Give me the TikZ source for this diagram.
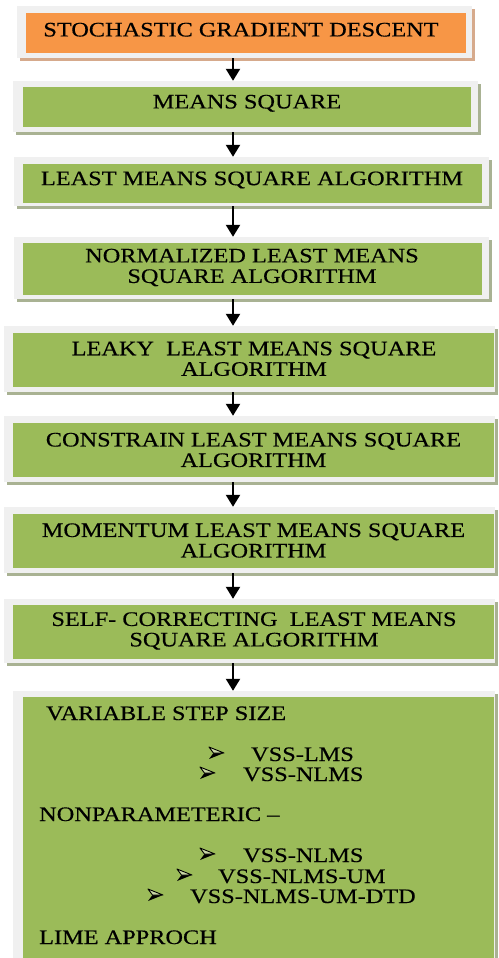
\documentclass[tikz,border=0pt]{standalone}
\usepackage{fontspec}
\setmainfont[FakeStretch=1.18,FakeBold=0.4]{Liberation Serif}
\usetikzlibrary{arrows.meta,shadows,fit}

\definecolor{sgdorange}{HTML}{F79646}
\definecolor{lmsgreen}{HTML}{9BBB59}
\definecolor{framegray}{HTML}{F0F0F0}
\definecolor{greenshadow}{HTML}{A9B293}
\definecolor{orangeshadow}{HTML}{D6AA8C}
\definecolor{bulletlight}{HTML}{C9D6A6}

\tikzset{
  frame/.style={fill=framegray, draw=none, inner sep=0pt,
    drop shadow={shadow xshift=3pt, shadow yshift=-3pt, fill=#1, opacity=1}},
  panel/.style={fill=#1, draw=none, inner sep=0pt},
  caption/.style={inner sep=0pt, align=center,
    font=\fontsize{20.6}{20.5}\selectfont},
  item/.style={inner sep=0pt, anchor=base west,
    font=\fontsize{20.6}{20.5}\selectfont},
  flow/.style={line width=2.2pt, -{Triangle[width=14pt,length=12pt]}},
  % three-dimensional arrowhead used as a list marker
  pics/arrowbullet/.style={code={
    \fill[black] (0,6) -- (15,0) -- (4.5,0) -- cycle;
    \filldraw[fill=bulletlight, draw=black, line width=0.9pt, line join=round]
      (0,-6) -- (15,0) -- (4.5,0) -- cycle;
  }}
}

\begin{document}
\begin{tikzpicture}[x=1pt,y=-1pt]
  \clip (0,0) rectangle (498,958);
  \fill[white] (0,0) rectangle (498,958);

  % outer frames with drop shadows
  \node[frame=orangeshadow, fit={(17,6) (472,58)}]   (f1) {};
  \node[frame=greenshadow,  fit={(13,81) (478,132)}]  (f2) {};
  \node[frame=greenshadow,  fit={(14,157) (489,206)}] (f3) {};
  \node[frame=greenshadow,  fit={(14,237) (489,299)}] (f4) {};
  \node[frame=greenshadow,  fit={(4,326) (495,392)}]  (f5) {};
  \node[frame=greenshadow,  fit={(4,416) (495,482)}]  (f6) {};
  \node[frame=greenshadow,  fit={(4,507) (495,573)}]  (f7) {};
  \node[frame=greenshadow,  fit={(4,599) (495,663)}]  (f8) {};
  \node[frame=greenshadow,  fit={(13,691) (495,975)}] (f9) {};

  % coloured panels
  \node[panel=sgdorange, fit={(26,13) (466,53)}]  (s1) {};
  \node[panel=lmsgreen,  fit={(23,87) (471,127)}]  (s2) {};
  \node[panel=lmsgreen,  fit={(23,164) (482,203)}] (s3) {};
  \node[panel=lmsgreen,  fit={(23,243) (482,295)}] (s4) {};
  \node[panel=lmsgreen,  fit={(13,333) (494,387)}] (s5) {};
  \node[panel=lmsgreen,  fit={(13,423) (494,477)}] (s6) {};
  \node[panel=lmsgreen,  fit={(13,514) (494,568)}] (s7) {};
  \node[panel=lmsgreen,  fit={(13,605) (494,659)}] (s8) {};
  \node[panel=lmsgreen,  fit={(23,697) (494,970)}] (s9) {};

  % captions
  \node[caption] (t1) at (241,29.7)  {STOCHASTIC GRADIENT DESCENT};
  \node[caption] (t2) at (247,103.3) {MEANS SQUARE};
  \node[caption] (t3) at (252,180)   {LEAST MEANS SQUARE ALGORITHM};
  \node[caption] (t4) at (252,267.5) {NORMALIZED LEAST MEANS\\SQUARE ALGORITHM};
  \node[caption] (t5) at (254,358.8) {LEAKY\ \ LEAST MEANS SQUARE\\ALGORITHM};
  \node[caption] (t6) at (253.5,450) {CONSTRAIN LEAST MEANS SQUARE\\ALGORITHM};
  \node[caption] (t7) at (253.5,540.5) {MOMENTUM LEAST MEANS SQUARE\\ALGORITHM};
  \node[caption] (t8) at (254,631)   {SELF- CORRECTING\ \ LEAST MEANS\\SQUARE ALGORITHM};

  % contents of the last panel
  \node[item] (v0) at (46,720) {VARIABLE STEP SIZE};
  \pic at (209,753) {arrowbullet};
  \node[item] (v1) at (251,761) {VSS-LMS};
  \pic at (200,773) {arrowbullet};
  \node[item] (v2) at (243,781) {VSS-NLMS};
  \node[item] (n0) at (39,821) {NONPARAMETERIC –};
  \pic at (200,854) {arrowbullet};
  \node[item] (n1) at (243,862) {VSS-NLMS};
  \pic at (177,875) {arrowbullet};
  \node[item] (n2) at (218,883) {VSS-NLMS-UM};
  \pic at (148,895) {arrowbullet};
  \node[item] (n3) at (190,903) {VSS-NLMS-UM-DTD};
  \node[item] (l0) at (39,944) {LIME APPROCH};

  % connectors
  \coordinate (ax) at (233,0);
  \draw[flow] (f1.south -| ax) -- (f2.north -| ax);
  \draw[flow] (f2.south -| ax) -- (f3.north -| ax);
  \draw[flow] (f3.south -| ax) -- (f4.north -| ax);
  \draw[flow] (f4.south -| ax) -- (f5.north -| ax);
  \draw[flow] (f5.south -| ax) -- (f6.north -| ax);
  \draw[flow] (f6.south -| ax) -- (f7.north -| ax);
  \draw[flow] (f7.south -| ax) -- (f8.north -| ax);
  \draw[flow] (f8.south -| ax) -- (f9.north -| ax);
\end{tikzpicture}
\end{document}
